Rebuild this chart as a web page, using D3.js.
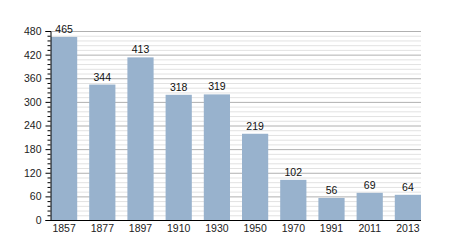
<!DOCTYPE html>
<html><head><meta charset="utf-8">
<script src="https://cdn.jsdelivr.net/npm/d3@7"></script>
<style>body{margin:0;background:#fff}svg{display:block;font-family:"Liberation Sans",Arial,sans-serif}</style>
</head><body><svg id="c" width="450" height="250"></svg>
<script>
const years = ["1857","1877","1897","1910","1930","1950","1970","1991","2011","2013"];
const population = [465,344,413,318,319,219,102,56,69,64];
const yTicks = [0,60,120,180,240,300,360,420,480];

const svg = d3.select("#c");
const L = 50, R = 421, T = 31, B = 220;
const x = d3.scaleBand().domain(years).range([L+1, R]).paddingInner(0.314).paddingOuter(0);
const y = d3.scaleLinear().domain([0,480]).range([B, T]);

const minor = d3.range(0, 481, 12);
svg.append("g").selectAll("line").data(minor.filter(v => v % 60 !== 0)).join("line")
  .attr("x1", L).attr("x2", R).attr("y1", d => y(d)+0.5).attr("y2", d => y(d)+0.5)
  .attr("stroke", "#e2e2e2").attr("stroke-width", 1);
svg.append("g").selectAll("line").data(yTicks.filter(v => v>0)).join("line")
  .attr("x1", L).attr("x2", R).attr("y1", d => y(d)+0.5).attr("y2", d => y(d)+0.5)
  .attr("stroke", "#b0b0b0").attr("stroke-width", 1);

svg.append("g").selectAll("rect").data(population).join("rect")
  .attr("x", (d,i) => x(years[i])).attr("width", x.bandwidth())
  .attr("y", d => y(d)).attr("height", d => B - y(d))
  .attr("fill", "#98b2cd");

svg.append("g").selectAll("text").data(population).join("text")
  .attr("x", (d,i) => x(years[i]) + x.bandwidth()/2).attr("y", d => y(d) - 4)
  .attr("text-anchor", "middle").attr("font-size", 10.5).attr("fill", "#111").text(d => d);

// y axis
const ya = svg.append("g").attr("transform", `translate(${L+0.5},0)`)
  .call(d3.axisLeft(y).tickValues(yTicks).tickSize(5).tickPadding(4));
ya.select(".domain").attr("stroke", "#000");
ya.selectAll("text").attr("font-size", 10.5).attr("fill", "#222").attr("font-family", "Liberation Sans, Arial, sans-serif");
svg.append("g").attr("transform", `translate(${L+0.5},0)`)
  .call(d3.axisLeft(y).tickValues(minor.filter(v => v%60!==0)).tickSize(3).tickFormat(""))
  .select(".domain").remove();

// x axis
const xa = svg.append("g").attr("transform", `translate(0,${B+0.5})`)
  .call(d3.axisBottom(x).tickSize(0).tickPadding(4).tickSizeOuter(0));
xa.select(".domain").attr("stroke", "#000").attr("d", `M${L},0H${R}`);
xa.selectAll("text").attr("font-size", 10.5).attr("fill", "#222").attr("font-family", "Liberation Sans, Arial, sans-serif");
</script></body></html>
